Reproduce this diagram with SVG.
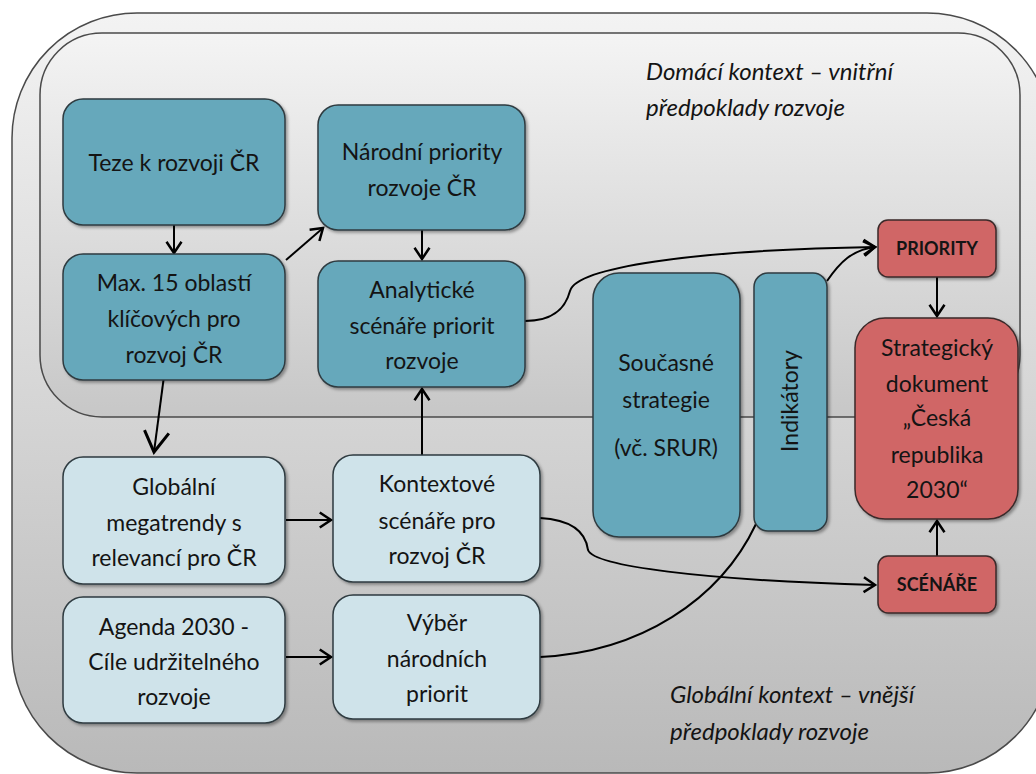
<svg xmlns="http://www.w3.org/2000/svg" width="1036" height="774" viewBox="0 0 1036 774">
<defs>
<linearGradient id="gOuter" x1="0" y1="0" x2="0" y2="1">
<stop offset="0" stop-color="#f3f3f3"/>
<stop offset="1" stop-color="#b9b9b9"/>
</linearGradient>
<linearGradient id="gInner" x1="0" y1="0" x2="0" y2="1">
<stop offset="0" stop-color="#f4f4f4"/>
<stop offset="1" stop-color="#c7c7c7"/>
</linearGradient>
<filter id="sh" x="-10%" y="-10%" width="130%" height="130%">
<feDropShadow dx="2" dy="2" stdDeviation="1.5" flood-color="#000" flood-opacity="0.35"/>
</filter>
<marker id="arr" markerUnits="userSpaceOnUse" markerWidth="20" markerHeight="20" refX="0" refY="0" viewBox="-12 -8 14 16" orient="auto" overflow="visible">
<path d="M-9,-6 L0,0 L-9,6" fill="none" stroke="#000" stroke-width="2"/>
</marker>
<marker id="arrBig" markerUnits="userSpaceOnUse" markerWidth="30" markerHeight="30" refX="0" refY="0" viewBox="-18 -11 20 22" orient="auto" overflow="visible">
<path d="M-15,-9 L0,0 L-15,9" fill="none" stroke="#000" stroke-width="2.2"/>
</marker>
<style>
.dark{fill:#66a8bb;stroke:#2f3b40;stroke-width:1.5;filter:url(#sh)}
.light{fill:#cfe3ea;stroke:#2f3b40;stroke-width:1.5;filter:url(#sh)}
.red{fill:#d06666;stroke:#3a2a2a;stroke-width:1.5;filter:url(#sh)}
.t{font-family:Lato,"Open Sans","Liberation Sans",sans-serif;font-size:23px;fill:#141414;text-anchor:middle}
.b{font-family:Lato,"Open Sans","Liberation Sans",sans-serif;font-size:18px;font-weight:bold;fill:#141414;text-anchor:middle}
.i{font-family:Lato,"Open Sans","Liberation Sans",sans-serif;font-size:24px;font-style:italic;fill:#141414}
.c{fill:none;stroke:#000;stroke-width:2}
</style>
</defs>

<g id="outer">
<rect x="12" y="13" width="1040" height="760" rx="125" ry="125" fill="url(#gOuter)" stroke="#4a4a4a" stroke-width="1.5"/>
</g>
<g id="inner">
<rect x="40" y="33" width="980" height="384" rx="62" ry="62" fill="url(#gInner)" stroke="#4a4a4a" stroke-width="1.5"/>
</g>

<g id="label-domestic">
<text class="i" x="646" y="80">Domácí kontext – vnitřní</text>
<text class="i" x="646" y="116">předpoklady rozvoje</text>
</g>
<g id="label-global">
<text class="i" x="670" y="703">Globální kontext – vnější</text>
<text class="i" x="670" y="740">předpoklady rozvoje</text>
</g>

<g id="connectors">
<line class="c" x1="174" y1="225" x2="174" y2="253" marker-end="url(#arr)"/>
<line class="c" x1="286" y1="260" x2="323" y2="228" marker-end="url(#arr)"/>
<line class="c" x1="422" y1="230" x2="422" y2="259" marker-end="url(#arr)"/>
<line class="c" x1="164" y1="376" x2="154" y2="452" marker-end="url(#arrBig)"/>
<line class="c" x1="422" y1="455" x2="422" y2="389" marker-end="url(#arr)"/>
<line class="c" x1="286" y1="520" x2="331" y2="520" marker-end="url(#arr)"/>
<line class="c" x1="286" y1="657" x2="331" y2="657" marker-end="url(#arr)"/>
<path class="c" d="M525,321 C556,321 566,306 570,291 C576,268 690,250 875,247" marker-end="url(#arr)"/>
<path class="c" d="M827,281 C840,262 852,250 875,247" marker-end="url(#arr)"/>
<path class="c" d="M540,518 C574,520 586,534 588,550 C594,566 700,580 875,585" marker-end="url(#arr)"/>
<path class="c" d="M540,657 C640,652 720,600 756,524"/>
<line class="c" x1="937" y1="277" x2="937" y2="316" marker-end="url(#arr)"/>
<line class="c" x1="937" y1="556" x2="937" y2="521" marker-end="url(#arr)"/>
</g>

<g id="n-teze">
<rect class="dark" x="63" y="99" width="222" height="126" rx="20"/>
<text class="t" x="174" y="171">Teze k rozvoji ČR</text>
</g>
<g id="n-narodni">
<rect class="dark" x="318" y="105" width="207" height="125" rx="20"/>
<text class="t" x="422" y="160">Národní priority</text>
<text class="t" x="422" y="196">rozvoje ČR</text>
</g>
<g id="n-max15">
<rect class="dark" x="63" y="254" width="222" height="126" rx="20"/>
<text class="t" x="174" y="291">Max. 15 oblastí</text>
<text class="t" x="174" y="327">klíčových pro</text>
<text class="t" x="174" y="363">rozvoj ČR</text>
</g>
<g id="n-analyticke">
<rect class="dark" x="318" y="261" width="207" height="126" rx="20"/>
<text class="t" x="422" y="298">Analytické</text>
<text class="t" x="422" y="334">scénáře priorit</text>
<text class="t" x="422" y="369">rozvoje</text>
</g>
<g id="n-soucasne">
<rect class="dark" x="593" y="273" width="147" height="264" rx="26"/>
<text class="t" x="666" y="371">Současné</text>
<text class="t" x="666" y="408">strategie</text>
<text class="t" x="666" y="456">(vč. SRUR)</text>
</g>
<g id="n-indikatory">
<rect class="dark" x="754" y="273" width="73" height="258" rx="14"/>
<text class="t" x="0" y="0" transform="translate(798,401) rotate(-90)">Indikátory</text>
</g>
<g id="n-priority">
<rect class="red" x="878" y="220" width="118" height="57" rx="10"/>
<text class="b" x="937" y="255">PRIORITY</text>
</g>
<g id="n-strategicky">
<rect class="red" x="855" y="318" width="163" height="201" rx="30"/>
<text class="t" x="937" y="356">Strategický</text>
<text class="t" x="937" y="392">dokument</text>
<text class="t" x="937" y="426">„Česká</text>
<text class="t" x="937" y="463">republika</text>
<text class="t" x="937" y="498">2030“</text>
</g>
<g id="n-scenare">
<rect class="red" x="878" y="556" width="118" height="57" rx="10"/>
<text class="b" x="937" y="591">SCÉNÁŘE</text>
</g>
<g id="n-globalni">
<rect class="light" x="63" y="457" width="222" height="127" rx="20"/>
<text class="t" x="174" y="495">Globální</text>
<text class="t" x="174" y="531">megatrendy s</text>
<text class="t" x="174" y="566">relevancí pro ČR</text>
</g>
<g id="n-kontextove">
<rect class="light" x="333" y="455" width="207" height="127" rx="20"/>
<text class="t" x="437" y="492">Kontextové</text>
<text class="t" x="437" y="529">scénáře pro</text>
<text class="t" x="437" y="564">rozvoj ČR</text>
</g>
<g id="n-agenda">
<rect class="light" x="63" y="597" width="222" height="126" rx="20"/>
<text class="t" x="174" y="635">Agenda 2030 -</text>
<text class="t" x="174" y="670">Cíle udržitelného</text>
<text class="t" x="174" y="705">rozvoje</text>
</g>
<g id="n-vyber">
<rect class="light" x="333" y="595" width="207" height="124" rx="20"/>
<text class="t" x="437" y="631">Výběr</text>
<text class="t" x="437" y="667">národních</text>
<text class="t" x="437" y="702">priorit</text>
</g>
</svg>
